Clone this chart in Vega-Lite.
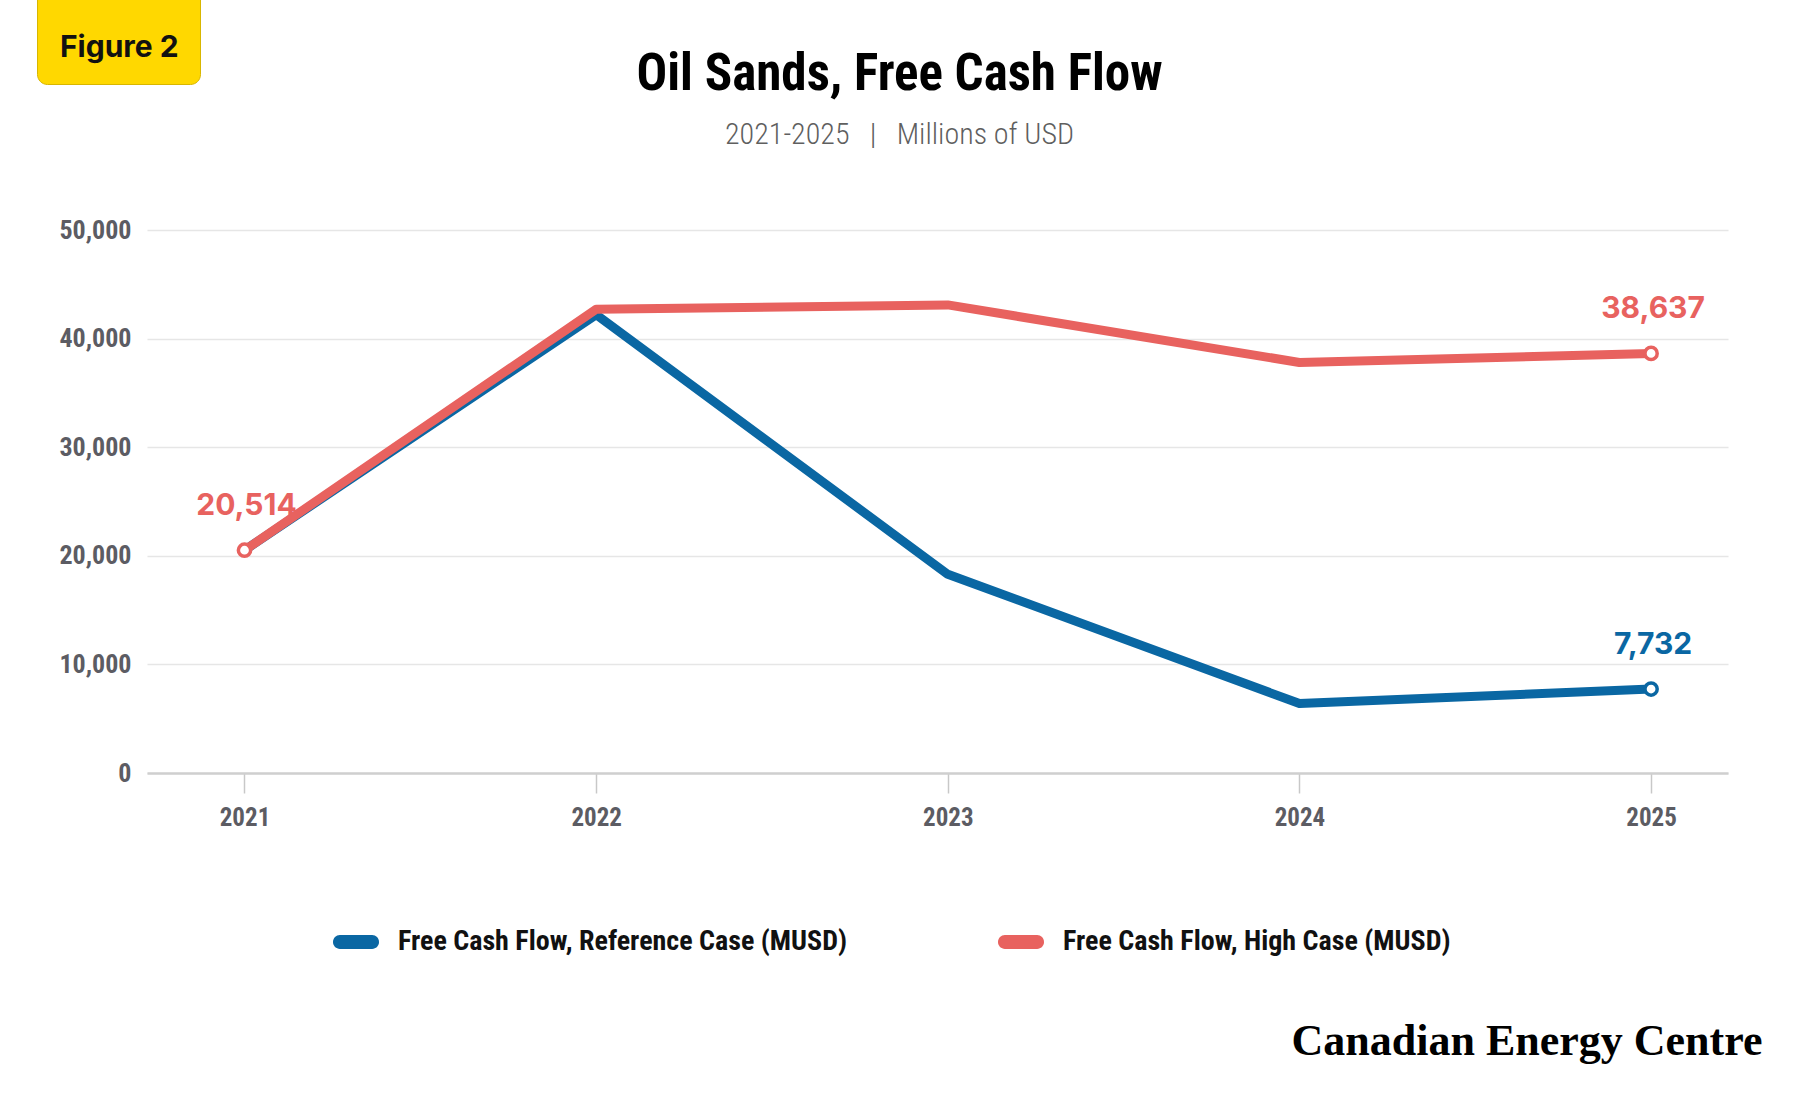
{
  "$schema": "https://vega.github.io/schema/vega-lite/v6.json",
  "width": 1581,
  "height": 543,
  "autosize": {"type": "none"},
  "padding": {"left": 147, "top": 230, "right": 72, "bottom": 327},
  "background": "white",
  "config": {
    "view": {"stroke": null},
    "font": "'Noto Sans Condensed', 'Roboto Condensed', 'Liberation Sans Narrow', Roboto, sans-serif"
  },
  "title": {
    "text": "Oil Sands, Free Cash Flow",
    "subtitle": "2021-2025\u00a0\u00a0\u00a0|\u00a0\u00a0\u00a0Millions of USD",
    "anchor": "middle",
    "frame": "group",
    "dx": -38,
    "offset": -163,
    "font": "'Noto Sans ExtraCondensed', 'Noto Sans Condensed', 'Roboto Condensed', 'Liberation Sans Narrow', Roboto, sans-serif",
    "fontSize": 51,
    "fontWeight": "bold",
    "color": "#000000",
    "subtitleFont": "'Noto Sans ExtraCondensed', 'Noto Sans Condensed', 'Roboto Condensed', 'Liberation Sans Narrow', Roboto, sans-serif",
    "subtitleFontSize": 30,
    "subtitleFontWeight": 300,
    "subtitleColor": "#5f5f5f",
    "subtitlePadding": 19
  },
  "data": {
    "values": [
      {"year": "2021", "series": "Free Cash Flow, Reference Case (MUSD)", "value": 20514, "labeled": false},
      {"year": "2022", "series": "Free Cash Flow, Reference Case (MUSD)", "value": 42200, "labeled": false},
      {"year": "2023", "series": "Free Cash Flow, Reference Case (MUSD)", "value": 18300, "labeled": false},
      {"year": "2024", "series": "Free Cash Flow, Reference Case (MUSD)", "value": 6400, "labeled": false},
      {"year": "2025", "series": "Free Cash Flow, Reference Case (MUSD)", "value": 7732, "labeled": true},
      {"year": "2021", "series": "Free Cash Flow, High Case (MUSD)", "value": 20514, "labeled": true},
      {"year": "2022", "series": "Free Cash Flow, High Case (MUSD)", "value": 42700, "labeled": false},
      {"year": "2023", "series": "Free Cash Flow, High Case (MUSD)", "value": 43100, "labeled": false},
      {"year": "2024", "series": "Free Cash Flow, High Case (MUSD)", "value": 37800, "labeled": false},
      {"year": "2025", "series": "Free Cash Flow, High Case (MUSD)", "value": 38637, "labeled": true}
    ]
  },
  "encoding": {
    "x": {
      "field": "year",
      "type": "ordinal",
      "scale": {"type": "point", "padding": 0.248, "align": 0.559},
      "axis": {
        "labelAngle": 0,
        "labelFont": "'Noto Sans Condensed', 'Roboto Condensed', 'Liberation Sans Narrow', Roboto, sans-serif",
        "labelFontSize": 25,
        "labelFontWeight": "bold",
        "labelColor": "#5c5c63",
        "labelPadding": 12,
        "domain": true,
        "domainColor": "#cfcfcf",
        "domainWidth": 2.5,
        "ticks": true,
        "tickColor": "#c8c8c8",
        "tickSize": 20,
        "tickWidth": 1.5,
        "grid": false,
        "title": "Canadian Energy Centre",
        "titleFont": "Liberation Serif",
        "titleFontSize": 44,
        "titleFontWeight": "bold",
        "titleColor": "#000000",
        "titleAlign": "right",
        "titleBaseline": "middle",
        "titleAnchor": "end",
        "titleX": 1615,
        "titleY": 268
      }
    },
    "y": {
      "field": "value",
      "type": "quantitative",
      "scale": {"domain": [0, 50000], "nice": false},
      "axis": {
        "values": [0, 10000, 20000, 30000, 40000, 50000],
        "format": ",.0f",
        "labelFont": "'Noto Sans Condensed', 'Roboto Condensed', 'Liberation Sans Narrow', Roboto, sans-serif",
        "labelFontSize": 26,
        "labelFontWeight": "bold",
        "labelColor": "#5c5c63",
        "labelPadding": 16,
        "domain": false,
        "ticks": false,
        "grid": true,
        "gridColor": "#e6e6e6",
        "gridWidth": 1.5,
        "title": null
      }
    },
    "color": {
      "field": "series",
      "type": "nominal",
      "scale": {
        "domain": ["Free Cash Flow, Reference Case (MUSD)", "Free Cash Flow, High Case (MUSD)"],
        "range": ["#0a67a3", "#e8625f"]
      },
      "legend": {
        "orient": "none",
        "legendX": 186,
        "legendY": 689,
        "direction": "horizontal",
        "title": null,
        "padding": 0,
        "labelFont": "'Noto Sans Condensed', 'Roboto Condensed', 'Liberation Sans Narrow', Roboto, sans-serif",
        "labelFontSize": 28,
        "labelFontWeight": "bold",
        "labelColor": "#111111",
        "labelOffset": 19,
        "labelLimit": 700,
        "columnPadding": 150,
        "symbolType": "M-0.7,-0.3 H0.7 A0.3,0.3 0 0 1 0.7,0.3 H-0.7 A0.3,0.3 0 0 1 -0.7,-0.3 Z",
        "symbolSize": 2116,
        "symbolStrokeWidth": 0,
        "encode": {
          "symbols": {
            "update": {
              "fill": {"scale": "color", "field": "value"},
              "stroke": {"value": "transparent"},
              "opacity": {"value": 1}
            }
          }
        }
      }
    }
  },
  "layer": [
    {
      "transform": [{"filter": "datum.series === 'Free Cash Flow, Reference Case (MUSD)'"}],
      "mark": {"type": "line", "strokeWidth": 9, "strokeJoin": "round", "strokeCap": "round"}
    },
    {
      "transform": [{"filter": "datum.series === 'Free Cash Flow, High Case (MUSD)'"}],
      "mark": {"type": "line", "strokeWidth": 9, "strokeJoin": "round", "strokeCap": "round"}
    },
    {
      "transform": [{"filter": "datum.labeled"}],
      "mark": {"type": "point", "filled": false, "fill": "white", "fillOpacity": 1, "opacity": 1, "strokeWidth": 3.5, "size": 150},
      "encoding": {
        "shape": {
          "datum": "Figure 2",
          "scale": {"range": ["circle"]},
          "legend": {
            "orient": "none",
            "legendX": -110,
            "legendY": -242,
            "title": " ",
            "titleFontSize": 8,
            "titlePadding": 15.5,
            "padding": 21,
            "fillColor": "#FFD800",
            "strokeColor": "#d8b600",
            "cornerRadius": 10,
            "labelFont": "Inter",
            "labelFontSize": 30,
            "labelFontWeight": "bold",
            "labelColor": "#111111",
            "labelOffset": -28,
            "symbolSize": 0,
            "symbolStrokeWidth": 0,
            "symbolOpacity": 0
          }
        }
      }
    },
    {
      "transform": [{"filter": "datum.labeled"}],
      "mark": {"type": "text", "font": "Inter", "fontSize": 30, "fontWeight": "bold", "dy": -44, "dx": 2, "baseline": "middle", "align": "center"},
      "encoding": {
        "text": {"field": "value", "type": "quantitative", "format": ","}
      }
    }
  ]
}
